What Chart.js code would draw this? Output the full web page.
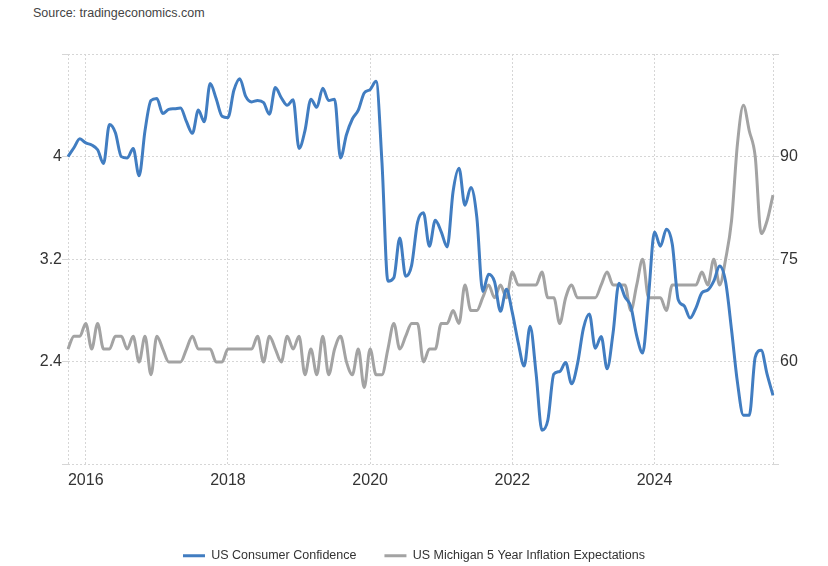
<!DOCTYPE html>
<html>
<head>
<meta charset="utf-8">
<script src="https://cdn.jsdelivr.net/npm/chart.js@4.4.1/dist/chart.umd.min.js"></script>
<style>
    body { margin: 0; background: #fff; }
    #wrap { position: relative; width: 828px; height: 566px; }
    #source { position: absolute; left: 33px; top: 6px; font: 12.5px "Liberation Sans", Arial, sans-serif; color: #444; }
    canvas { position: absolute; left: 0; top: 0; }
</style>
</head>
<body>
<div id="wrap">
    <div id="source">Source: tradingeconomics.com</div>
    <canvas id="chart" width="828" height="566"></canvas>
</div>
<script>
// Monthly data, Oct 2015 .. Sep 2025
var startYear = 2015;
var startMonth = 10;
var tickYears = ['2016', '2018', '2020', '2022', '2024'];

// US Consumer Confidence (right axis)
var confidence = [
    90.0, 91.3, 92.6,
    92.0, 91.7, 91.0, 89.0, 94.7, 93.5, 90.0, 89.8, 91.2, 87.2, 93.8, 98.2,
    98.5, 96.3, 96.9, 97.0, 97.1, 95.1, 93.4, 96.8, 95.1, 100.7, 98.5, 95.9,
    95.7, 99.7, 101.4, 98.8, 98.0, 98.2, 97.9, 96.2, 100.1, 98.6, 97.5, 98.3,
    91.2, 93.8, 98.4, 97.2, 100.0, 98.2, 98.4, 89.8, 93.2, 95.5, 96.8, 99.3,
    99.8, 101.0, 89.1, 71.8, 72.3, 78.1, 72.5, 74.1, 80.4, 81.8, 76.9, 80.7,
    79.0, 76.8, 84.9, 88.3, 82.9, 85.5, 81.2, 70.3, 72.8, 71.7, 67.4, 70.6,
    67.2, 62.8, 59.4, 65.2, 58.4, 50.0, 51.5, 58.2, 58.6, 59.9, 56.8, 59.7,
    64.9, 67.0, 62.0, 63.7, 59.0, 64.2, 71.5, 69.5, 68.1, 63.8, 61.3, 69.7,
    79.0, 76.9, 79.4, 77.2, 69.1, 68.2, 66.4, 67.9, 70.1, 70.5, 71.8, 74.0,
    71.7, 64.7, 57.0, 52.2, 52.2, 60.7, 61.7, 58.2, 55.1
];

// US Michigan 5 Year Inflation Expectations (left axis)
var inflation = [
    2.5, 2.6, 2.6,
    2.7, 2.5, 2.7, 2.5, 2.5, 2.6, 2.6, 2.5, 2.6, 2.4, 2.6, 2.3,
    2.6, 2.5, 2.4, 2.4, 2.4, 2.5, 2.6, 2.5, 2.5, 2.5, 2.4, 2.4,
    2.5, 2.5, 2.5, 2.5, 2.5, 2.6, 2.4, 2.6, 2.5, 2.4, 2.6, 2.5,
    2.6, 2.3, 2.5, 2.3, 2.6, 2.3, 2.5, 2.6, 2.4, 2.3, 2.5, 2.2,
    2.5, 2.3, 2.3, 2.5, 2.7, 2.5, 2.6, 2.7, 2.7, 2.4, 2.5, 2.5,
    2.7, 2.7, 2.8, 2.7, 3.0, 2.8, 2.8, 2.9, 3.0, 2.9, 3.0, 2.9,
    3.1, 3.0, 3.0, 3.0, 3.0, 3.1, 2.9, 2.9, 2.7, 2.9, 3.0, 2.9,
    2.9, 2.9, 2.9, 3.0, 3.1, 3.0, 3.0, 3.0, 2.8, 3.0, 3.2, 2.9,
    2.9, 2.9, 2.8, 3.0, 3.0, 3.0, 3.0, 3.0, 3.1, 3.0, 3.2, 3.0,
    3.2, 3.5, 4.1, 4.4, 4.2, 4.0, 3.4, 3.5, 3.7
];

// Month labels like "2016-01"
var labels = [];
for (var i = 0; i < confidence.length; i++) {
    var m = startMonth - 1 + i;
    var y = startYear + Math.floor(m / 12);
    var mm = (m % 12) + 1;
    labels.push(y + '-' + (mm < 10 ? '0' + mm : mm));
}

var gridColor = '#d6d6d6';
var textColor = '#333';
var fontFamily = '"Liberation Sans", Arial, sans-serif';

var ctx = document.getElementById('chart').getContext('2d');
var chart = new Chart(ctx, {
    type: 'line',
    data: {
        labels: labels,
        datasets: [{
            label: 'US Consumer Confidence',
            data: confidence,
            yAxisID: 'yRight',
            borderColor: '#417dc1',
            backgroundColor: '#417dc1',
            borderWidth: 3,
            pointRadius: 0,
            cubicInterpolationMode: 'monotone'
        }, {
            label: 'US Michigan 5 Year Inflation Expectations',
            data: inflation,
            yAxisID: 'yLeft',
            borderColor: '#a3a3a3',
            backgroundColor: '#a3a3a3',
            borderWidth: 3,
            pointRadius: 0,
            cubicInterpolationMode: 'monotone'
        }]
    },
    options: {
        responsive: false,
        animation: false,
        devicePixelRatio: 1,
        layout: { padding: { top: 54, left: 0, right: 0, bottom: -6 } },
        plugins: {
            tooltip: { enabled: false },
            legend: {
                position: 'bottom',
                labels: {
                    usePointStyle: true,
                    pointStyle: 'line',
                    pointStyleWidth: 22,
                    padding: 28,
                    color: textColor,
                    font: { family: fontFamily, size: 12.5 }
                }
            }
        },
        scales: {
            x: {
                type: 'category',
                offset: false,
                grid: { color: gridColor, drawTicks: false, lineWidth: 1 },
                border: { display: false, dash: [2, 2] },
                ticks: {
                    autoSkip: false,
                    maxRotation: 0,
                    padding: 6,
                    color: textColor,
                    font: { family: fontFamily, size: 16 },
                    callback: function(val, idx) {
                        var l = this.getLabelForValue(val);
                        if (idx === 0 || idx === labels.length - 1) return '';
                        if (l.slice(5) === '01' && tickYears.indexOf(l.slice(0, 4)) >= 0) return l.slice(0, 4);
                        return null;
                    }
                },
                afterFit: function(s) { s.height = 57; }
            },
            yLeft: {
                position: 'left',
                min: 1.6,
                max: 4.8,
                grid: { color: gridColor, tickLength: 6, lineWidth: 1 },
                border: { display: false, dash: [2, 2] },
                ticks: {
                    stepSize: 0.8,
                    padding: 0,
                    color: textColor,
                    font: { family: fontFamily, size: 16 },
                    callback: function(v) {
                        if (v < 1.7 || v > 4.7) return '';
                        return String(Number(v.toFixed(1)));
                    }
                },
                afterFit: function(s) { s.width = 68; }
            },
            yRight: {
                position: 'right',
                min: 45,
                max: 105,
                grid: { color: gridColor, drawOnChartArea: false, tickLength: 6 },
                border: { display: false, dash: [2, 2] },
                ticks: {
                    stepSize: 15,
                    padding: 1,
                    color: textColor,
                    font: { family: fontFamily, size: 16 },
                    callback: function(v) {
                        if (v < 50 || v > 100) return '';
                        return String(v);
                    }
                },
                afterFit: function(s) { s.width = 55; }
            }
        }
    }
});
</script>
</body>
</html>
